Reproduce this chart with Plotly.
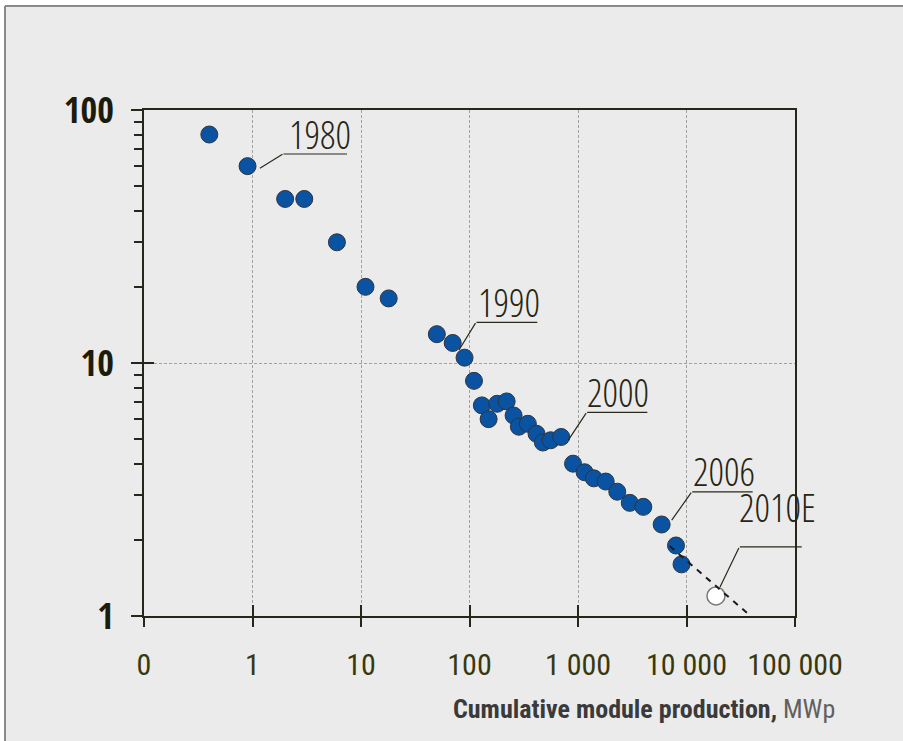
import numpy as np
import plotly.graph_objects as go

# ---------------- data ----------------
cum_production_mwp = [0.4, 0.9, 2, 3, 6, 11, 18, 50, 70, 90, 110, 130, 150, 180,
                      220, 255, 285, 345, 415, 475, 560, 700, 900, 1150, 1400,
                      1800, 2300, 3000, 4000, 5900, 8000, 9000]
module_price = [80, 60, 44.5, 44.5, 30, 20, 18, 13, 12, 10.5, 8.5, 6.8, 6.0, 6.9,
                7.05, 6.2, 5.6, 5.75, 5.25, 4.85, 4.95, 5.1, 4.0, 3.7, 3.5,
                3.4, 3.1, 2.8, 2.7, 2.3, 1.9, 1.6]

estimate_x = [18700]
estimate_y = [1.2]

trend_x = [7000, 36000]
trend_y = [1.89, 1.03]

x_tickvals = [0.1, 1, 10, 100, 1000, 10000, 100000]
x_ticktext = ["0", "1", "10", "100", "1 000", "10 000", "100 000"]
y_tickvals = [1, 10, 100]
y_ticktext = ["1", "10", "100"]
y_minor = [2, 3, 4, 5, 6, 7, 8, 9, 20, 30, 40, 50, 60, 70, 80, 90]

# year labels: text, leader start, elbow, underline end, text x, text baseline y
label_text = ["1980", "1990", "2000", "2006", "2010E"]
leader_start = [(1.17, 58.9), (80, 11.25), (814, 4.955), (7308, 2.391), (20370, 1.302)]
leader_elbow = [(1.91, 67.0), (114.8, 14.48), (1202, 6.377), (11170, 3.094), (30680, 1.875)]
leader_end_x = [7.43, 421.7, 4355, 40740, 115300]
label_pos = [(2.17, 69.5), (119.8, 15.05), (1210, 6.61), (11480, 3.237), (30680, 2.321)]

# ---------------- style / layout ----------------
W, H = 903, 741
ML, MT = 144, 110
PW, PH = 651, 506
MR, MB = W - ML - PW, H - MT - PH

def px2paper_x(px):
    return (px - ML) / PW

def px2paper_y(py):
    return (MT + PH - py) / PH

BG = "#ebebeb"
AXC = "#26261a"
FRAME = "#8a8a8a"
COND = "Roboto Condensed, Open Sans, sans-serif"

fig = go.Figure()

fig.add_trace(go.Scatter(
    x=cum_production_mwp, y=module_price, mode="markers",
    marker=dict(size=17, color="#0a53a3", line=dict(color="#2e3440", width=1)),
    showlegend=False, hoverinfo="x+y"))

fig.add_trace(go.Scatter(
    x=estimate_x, y=estimate_y, mode="markers",
    marker=dict(size=18, color="white", line=dict(color="#7a7a7a", width=1.5)),
    showlegend=False))

fig.add_trace(go.Scatter(
    x=trend_x, y=trend_y, mode="lines",
    line=dict(color="#1a1a1a", width=2, dash="6px,6px"),
    showlegend=False, hoverinfo="skip"))

# invisible trace for the overlay axes that carry the inner tick halves
fig.add_trace(go.Scatter(x=[1], y=[1], xaxis="x2", yaxis="y2", mode="markers",
                         marker=dict(opacity=0), showlegend=False, hoverinfo="skip"))

annotations = []
lg = np.log10
for i, txt in enumerate(label_text):
    sx, sy = leader_start[i]
    ex, ey = leader_elbow[i]
    annotations.append(dict(
        x=lg(sx), y=lg(sy), ax=lg(ex), ay=lg(ey), xref="x", yref="y",
        axref="x", ayref="y", text=" ", showarrow=True, arrowhead=0,
        arrowwidth=1.2, arrowcolor="#2a2a1a", font=dict(size=1), borderpad=0,
        standoff=0, startstandoff=0))
    annotations.append(dict(
        x=lg(leader_end_x[i]), y=lg(ey), ax=lg(ex), ay=lg(ey), xref="x", yref="y",
        axref="x", ayref="y", text=" ", showarrow=True, arrowhead=0,
        arrowwidth=1.2, arrowcolor="#2a2a1a", font=dict(size=1), borderpad=0,
        standoff=0, startstandoff=0))
    tx, ty = label_pos[i]
    annotations.append(dict(
        x=lg(tx), y=lg(ty), xref="x", yref="y",
        text=f"<span style='font-stretch:condensed'>{txt}</span>", showarrow=False,
        xanchor="left", yanchor="bottom", yshift=-12, xshift=-2,
        font=dict(family="Open Sans", size=38, color="#262614", weight=300)))

annotations.append(dict(
    x=px2paper_x(837), y=px2paper_y(709), xref="paper", yref="paper",
    xanchor="right", yanchor="middle", showarrow=False,
    text="<b>Cumulative module production,</b> <span style='color:#606060'>MWp</span>",
    font=dict(family=COND, size=26, color="#3a3a3a")))

shapes = [
    # white margin strips outside the grey panel (left and top)
    dict(type="rect", xref="paper", yref="paper",
         x0=-0.5, x1=px2paper_x(5), y0=-0.5, y1=1.5,
         fillcolor="white", line=dict(width=0), layer="below"),
    dict(type="rect", xref="paper", yref="paper",
         x0=-0.5, x1=1.5, y0=px2paper_y(6), y1=1.5,
         fillcolor="white", line=dict(width=0), layer="below"),
    # frame edges (top and left)
    dict(type="line", xref="paper", yref="paper",
         x0=px2paper_x(5), x1=1.5, y0=px2paper_y(6), y1=px2paper_y(6),
         line=dict(color=FRAME, width=2), layer="below"),
    dict(type="line", xref="paper", yref="paper",
         x0=px2paper_x(5), x1=px2paper_x(5), y0=-0.5, y1=px2paper_y(6),
         line=dict(color=FRAME, width=2), layer="below"),
]

fig.update_layout(
    width=W, height=H,
    margin=dict(l=ML, r=MR, t=MT, b=MB, pad=0),
    paper_bgcolor=BG, plot_bgcolor=BG,
    showlegend=False,
    annotations=annotations,
    shapes=shapes,
    xaxis=dict(
        type="log", range=[-1, 5], tickmode="array",
        tickvals=x_tickvals, ticktext=x_ticktext,
        ticks="outside", ticklen=9, tickwidth=2, tickcolor=AXC,
        showline=True, linecolor=AXC, linewidth=2, mirror=True,
        showgrid=True, gridcolor="#a0a0a0", gridwidth=1, griddash="3px,2px",
        zeroline=False, ticklabelstandoff=12,
        tickfont=dict(family=COND, size=30, color="#38380f")),
    yaxis=dict(
        type="log", range=[0, 2], tickmode="array",
        tickvals=y_tickvals, ticktext=y_ticktext,
        ticks="outside", ticklen=11, tickwidth=2, tickcolor=AXC,
        minor=dict(tickmode="array", tickvals=y_minor, ticks="outside",
                   ticklen=8, tickwidth=2, tickcolor=AXC, showgrid=False),
        showline=True, linecolor=AXC, linewidth=2, mirror=True,
        showgrid=True, gridcolor="#a0a0a0", gridwidth=1, griddash="3px,2px",
        zeroline=False, ticklabelstandoff=10,
        tickfont=dict(family="Open Sans Condensed, Roboto Condensed, sans-serif",
                      size=36, color="#1c1c0c", weight="bold")),
    xaxis2=dict(
        type="log", range=[-1, 5], overlaying="x", anchor="y2", side="bottom",
        tickmode="array", tickvals=x_tickvals[1:-1], ticks="inside", ticklen=11,
        tickwidth=2, tickcolor=AXC, showticklabels=False, showgrid=False,
        showline=False, zeroline=False),
    yaxis2=dict(
        type="log", range=[0, 2], overlaying="y", anchor="x2", side="left",
        tickmode="array", tickvals=[10], ticks="inside", ticklen=10,
        tickwidth=2, tickcolor=AXC, showticklabels=False, showgrid=False,
        showline=False, zeroline=False),
)

fig.write_html("out.html", config={"displayModeBar": False})

# remove the default page margin so the figure sits at the window's corner
with open("out.html", "r", encoding="utf-8") as fh:
    page = fh.read()
page = page.replace("<body>", "<body style=\"margin:0;overflow:hidden\">", 1)
with open("out.html", "w", encoding="utf-8") as fh:
    fh.write(page)
